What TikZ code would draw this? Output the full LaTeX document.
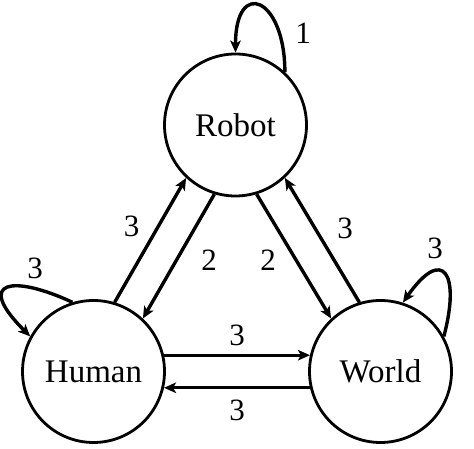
\documentclass[tikz,border=0pt]{standalone}
\usepackage{fontspec}
\setmainfont{Liberation Serif}
\usetikzlibrary{arrows.meta}
\begin{document}
\begin{tikzpicture}[x=1pt,y=1pt,
  state/.style={circle,draw,line width=2.8pt,minimum size=142pt,inner sep=0pt,font=\fontsize{33}{40}\selectfont},
  conn/.style={line width=3.4pt,-{Stealth[length=12pt,width=10.5pt,inset=3pt]}},
  lbl/.style={font=\fontsize{31}{37}\selectfont,inner sep=0pt}]
\useasboundingbox (0,0) rectangle (474,449);
\node[state] (R) at (235.5,324) {Robot};
\node[state] (H) at (93.5,77.5) {Human};
\node[state] (W) at (380.5,77.5) {World};
\draw[conn] (H.73) -- (R.227);
\draw[conn] (R.253) -- (H.47);
\draw[conn] (W.107) -- (R.313);
\draw[conn] (R.287) -- (W.133);
\draw[conn] (H.13) -- (W.167);
\draw[conn] (W.193) -- (H.347);
\draw[conn] (R.47) .. controls +(90:75) and +(90:75) .. (R.90);
\draw[conn] (H.107) .. controls +(155:65) and +(135:80) .. (H.151);
\draw[conn] (W.29) .. controls +(75:65) and +(55:70) .. (W.72);
\node[lbl] (l1) at (303,416) {1};
\node[lbl] (lh) at (35,181) {3};
\node[lbl] (lw) at (435,201) {3};
\node[lbl] (lhr) at (131.7,222.3) {3};
\node[lbl] (lrh) at (209,189) {2};
\node[lbl] (lrw) at (268,189) {2};
\node[lbl] (lwr) at (345,221) {3};
\node[lbl] (lhw) at (237,114) {3};
\node[lbl] (lwh) at (237,39) {3};
\end{tikzpicture}
\end{document}
